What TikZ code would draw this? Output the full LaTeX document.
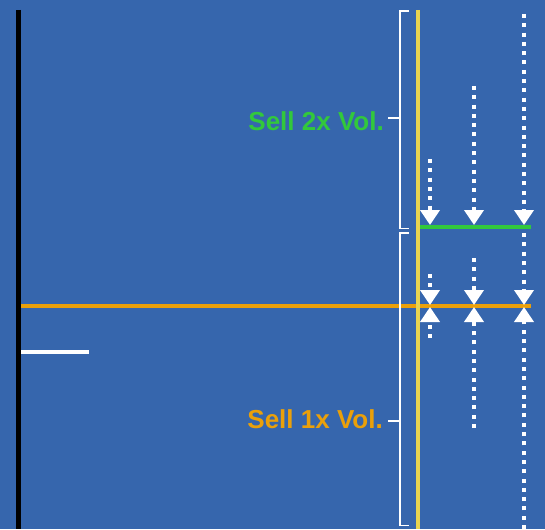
\documentclass[tikz,border=0pt]{standalone}
\usepackage{fontspec}
\setmainfont{Liberation Sans}
\usetikzlibrary{arrows.meta}
\definecolor{bgblue}{RGB}{54,102,173}
\definecolor{sellorange}{RGB}{234,160,10}
\definecolor{sellgreen}{RGB}{50,200,60}
\definecolor{lineyellow}{RGB}{232,212,80}
\tikzset{
  dotarrow/.style={white, line width=4pt, dash pattern=on 4pt off 5.3pt,
    -{Triangle[width=19pt,length=15pt]}},
  bracketline/.style={white, line width=1.5pt},
  lbl/.style={font=\bfseries\fontsize{26}{30}\selectfont, inner sep=0pt, anchor=base east}
}
\begin{document}
\begin{tikzpicture}[x=1pt,y=-1pt]
\fill[bgblue] (0,0) rectangle (545,529);
\useasboundingbox (0,0) rectangle (545,529);
% axis lines
\draw[black, line width=4.5pt] (18.5,10) -- (18.5,529);
\draw[sellorange, line width=4pt] (21,306) -- (531,306);
\draw[white, line width=4pt] (21,352) -- (89,352);
\draw[sellgreen, line width=3.5pt] (420,227) -- (531,227);
\draw[lineyellow, line width=4pt] (418,10) -- (418,529);
% brackets
\draw[bracketline] (409,11) -- (400,11) -- (400,228.5) -- (409,228.5);
\draw[bracketline] (400,118) -- (388,118);
\draw[bracketline] (409,233) -- (400,233) -- (400,525.5) -- (409,525.5);
\draw[bracketline] (400,421) -- (388,421);
% labels
\node[lbl, text=sellgreen] (s2) at (384,131) {Sell 2x Vol.};
\node[lbl, text=sellorange] (s1) at (383,428) {Sell 1x Vol.};
% coordinates
\coordinate (a1t) at (430,159); \coordinate (a1b) at (430,225);
\coordinate (a2t) at (474,86);  \coordinate (a2b) at (474,225);
\coordinate (a3t) at (524,14);  \coordinate (a3b) at (524,225);
\coordinate (b1t) at (430,274); \coordinate (b1m) at (430,305);
\coordinate (b2t) at (474,258); \coordinate (b2m) at (474,305);
\coordinate (b3t) at (524,233); \coordinate (b3m) at (524,305);
\coordinate (c1b) at (430,338); \coordinate (c1m) at (430,307);
\coordinate (c2b) at (474,428); \coordinate (c2m) at (474,307);
\coordinate (c3b) at (524,529); \coordinate (c3m) at (524,307);
% dotted arrows
\draw[dotarrow] (a1t) -- (a1b);
\draw[dotarrow] (a2t) -- (a2b);
\draw[dotarrow] (a3t) -- (a3b);
\draw[dotarrow] (b1t) -- (b1m);
\draw[dotarrow] (b2t) -- (b2m);
\draw[dotarrow] (b3t) -- (b3m);
\draw[dotarrow] (c1b) -- (c1m);
\draw[dotarrow] (c2b) -- (c2m);
\draw[dotarrow] (c3b) -- (c3m);
\end{tikzpicture}
\end{document}
